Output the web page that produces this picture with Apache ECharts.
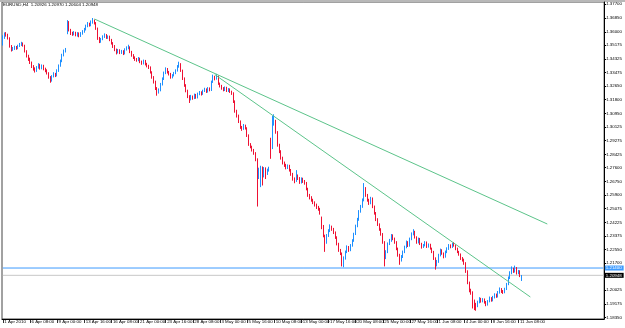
<!DOCTYPE html>
<html>
<head>
<meta charset="utf-8">
<script src="https://cdn.jsdelivr.net/npm/echarts@6/dist/echarts.min.js"></script>
<style>
  html, body { margin: 0; padding: 0; background: #fff; }
  #chart { width: 625px; height: 328px; }
</style>
</head>
<body>
<div id="chart"></div>
<script>
// EURUSD H4, 1 Apr 2010 16:00 .. 11 Jun 2010 16:00, one line per trading day
const opens = [
  1.3525, 1.3565,
  1.3585, 1.3578, 1.3560, 1.3510, 1.3490, 1.3495,
  1.3505, 1.3498, 1.3512, 1.3520, 1.3528, 1.3515,
  1.3480, 1.3450, 1.3430, 1.3410, 1.3385, 1.3370,
  1.3360, 1.3380, 1.3395, 1.3375, 1.3390, 1.3370,
  1.3362, 1.3345, 1.3320, 1.3300, 1.3325, 1.3340,
  1.3330, 1.3360, 1.3390, 1.3420, 1.3455, 1.3480,
  1.3590, 1.3660, 1.3610, 1.3590, 1.3585, 1.3595,
  1.3580, 1.3590, 1.3575, 1.3590, 1.3600, 1.3615,
  1.3635, 1.3650, 1.3640, 1.3660, 1.3668, 1.3655,
  1.3620, 1.3560, 1.3540, 1.3555, 1.3570, 1.3580,
  1.3565, 1.3570, 1.3550, 1.3530, 1.3510, 1.3490,
  1.3475, 1.3485, 1.3470, 1.3480, 1.3465, 1.3490,
  1.3500, 1.3505, 1.3475, 1.3455, 1.3440, 1.3430,
  1.3425, 1.3435, 1.3415, 1.3405, 1.3420, 1.3400,
  1.3390, 1.3380, 1.3350, 1.3320, 1.3290, 1.3250,
  1.3230, 1.3240, 1.3275, 1.3310, 1.3345, 1.3370,
  1.3350, 1.3340, 1.3320, 1.3330, 1.3345, 1.3360,
  1.3385, 1.3400, 1.3360, 1.3310, 1.3270, 1.3235,
  1.3200, 1.3185, 1.3200, 1.3190, 1.3210, 1.3195,
  1.3215, 1.3225, 1.3215, 1.3235, 1.3245, 1.3230,
  1.3250, 1.3240, 1.3290, 1.3320, 1.3310, 1.3325,
  1.3280, 1.3265, 1.3250, 1.3240, 1.3255, 1.3235,
  1.3245, 1.3230, 1.3220, 1.3170, 1.3110, 1.3080,
  1.3045, 1.3010, 1.3000, 1.3020, 1.3005, 1.2960,
  1.2905, 1.2890, 1.2870, 1.2850, 1.2810, 1.2730,
  1.2745, 1.2760, 1.2740, 1.2755, 1.2735, 1.2745,
  1.2935, 1.2880, 1.3030, 1.3050, 1.2980, 1.2900,
  1.2860, 1.2820, 1.2790, 1.2775, 1.2760, 1.2770,
  1.2745, 1.2720, 1.2690, 1.2680, 1.2710, 1.2695,
  1.2670, 1.2690, 1.2675, 1.2665, 1.2630, 1.2590,
  1.2575, 1.2560, 1.2545, 1.2530, 1.2515, 1.2505,
  1.2450, 1.2400, 1.2340, 1.2300, 1.2340, 1.2370,
  1.2395, 1.2380, 1.2360, 1.2330, 1.2290, 1.2250,
  1.2230, 1.2190, 1.2200, 1.2240, 1.2270, 1.2250,
  1.2280, 1.2310, 1.2350, 1.2400, 1.2440, 1.2490,
  1.2520, 1.2560, 1.2620, 1.2590, 1.2560, 1.2540,
  1.2570, 1.2520, 1.2480, 1.2440, 1.2410, 1.2380,
  1.2350, 1.2300, 1.2220, 1.2240, 1.2290, 1.2310,
  1.2340, 1.2320, 1.2300, 1.2260, 1.2220, 1.2190,
  1.2210, 1.2240, 1.2270, 1.2300, 1.2280, 1.2320,
  1.2350, 1.2365, 1.2330, 1.2300, 1.2320, 1.2290,
  1.2270, 1.2280, 1.2300, 1.2270, 1.2285, 1.2260,
  1.2240, 1.2200, 1.2160, 1.2180, 1.2220, 1.2250,
  1.2230, 1.2210, 1.2240, 1.2260, 1.2280, 1.2270,
  1.2290, 1.2280, 1.2260, 1.2240, 1.2225, 1.2200,
  1.2190, 1.2170, 1.2120, 1.2050, 1.2000, 1.1990,
  1.1930, 1.1915, 1.1905, 1.1930, 1.1950, 1.1935,
  1.1945, 1.1930, 1.1915, 1.1935, 1.1955, 1.1940,
  1.1960, 1.1975, 1.1965, 1.1990, 1.2010, 1.1995,
  1.1990, 1.2010, 1.2040, 1.2080, 1.2110, 1.2135,
  1.2120, 1.2140, 1.2110, 1.2120, 1.20926
];
const closes = [
  1.3565, 1.3585,
  1.3578, 1.3560, 1.3510, 1.3490, 1.3495, 1.3505,
  1.3498, 1.3512, 1.3520, 1.3528, 1.3515, 1.3480,
  1.3450, 1.3430, 1.3410, 1.3385, 1.3370, 1.3360,
  1.3380, 1.3395, 1.3375, 1.3390, 1.3370, 1.3362,
  1.3345, 1.3320, 1.3300, 1.3325, 1.3340, 1.3330,
  1.3360, 1.3390, 1.3420, 1.3455, 1.3480, 1.3490,
  1.3660, 1.3610, 1.3590, 1.3585, 1.3595, 1.3580,
  1.3590, 1.3575, 1.3590, 1.3600, 1.3615, 1.3635,
  1.3650, 1.3640, 1.3660, 1.3668, 1.3655, 1.3620,
  1.3560, 1.3540, 1.3555, 1.3570, 1.3580, 1.3565,
  1.3570, 1.3550, 1.3530, 1.3510, 1.3490, 1.3475,
  1.3485, 1.3470, 1.3480, 1.3465, 1.3490, 1.3500,
  1.3505, 1.3475, 1.3455, 1.3440, 1.3430, 1.3425,
  1.3435, 1.3415, 1.3405, 1.3420, 1.3400, 1.3390,
  1.3380, 1.3350, 1.3320, 1.3290, 1.3250, 1.3230,
  1.3240, 1.3275, 1.3310, 1.3345, 1.3370, 1.3350,
  1.3340, 1.3320, 1.3330, 1.3345, 1.3360, 1.3385,
  1.3400, 1.3360, 1.3310, 1.3270, 1.3235, 1.3200,
  1.3185, 1.3200, 1.3190, 1.3210, 1.3195, 1.3215,
  1.3225, 1.3215, 1.3235, 1.3245, 1.3230, 1.3250,
  1.3240, 1.3290, 1.3320, 1.3310, 1.3325, 1.3280,
  1.3265, 1.3250, 1.3240, 1.3255, 1.3235, 1.3245,
  1.3230, 1.3220, 1.3170, 1.3110, 1.3080, 1.3045,
  1.3010, 1.3000, 1.3020, 1.3005, 1.2960, 1.2905,
  1.2890, 1.2870, 1.2850, 1.2810, 1.2730, 1.2745,
  1.2760, 1.2740, 1.2755, 1.2735, 1.2745, 1.2755,
  1.2880, 1.3030, 1.3050, 1.2980, 1.2900, 1.2860,
  1.2820, 1.2790, 1.2775, 1.2760, 1.2770, 1.2745,
  1.2720, 1.2690, 1.2680, 1.2710, 1.2695, 1.2670,
  1.2690, 1.2675, 1.2665, 1.2630, 1.2590, 1.2575,
  1.2560, 1.2545, 1.2530, 1.2515, 1.2505, 1.2480,
  1.2400, 1.2340, 1.2300, 1.2340, 1.2370, 1.2395,
  1.2380, 1.2360, 1.2330, 1.2290, 1.2250, 1.2230,
  1.2190, 1.2200, 1.2240, 1.2270, 1.2250, 1.2280,
  1.2310, 1.2350, 1.2400, 1.2440, 1.2490, 1.2520,
  1.2560, 1.2620, 1.2590, 1.2560, 1.2540, 1.2570,
  1.2520, 1.2480, 1.2440, 1.2410, 1.2380, 1.2350,
  1.2300, 1.2220, 1.2240, 1.2290, 1.2310, 1.2340,
  1.2320, 1.2300, 1.2260, 1.2220, 1.2190, 1.2210,
  1.2240, 1.2270, 1.2300, 1.2280, 1.2320, 1.2350,
  1.2365, 1.2330, 1.2300, 1.2320, 1.2290, 1.2270,
  1.2280, 1.2300, 1.2270, 1.2285, 1.2260, 1.2240,
  1.2200, 1.2160, 1.2180, 1.2220, 1.2250, 1.2230,
  1.2210, 1.2240, 1.2260, 1.2280, 1.2270, 1.2290,
  1.2280, 1.2260, 1.2240, 1.2225, 1.2200, 1.2190,
  1.2170, 1.2120, 1.2050, 1.2000, 1.1990, 1.1930,
  1.1915, 1.1905, 1.1930, 1.1950, 1.1935, 1.1945,
  1.1930, 1.1915, 1.1935, 1.1955, 1.1940, 1.1960,
  1.1975, 1.1965, 1.1990, 1.2010, 1.1995, 1.1990,
  1.2010, 1.2040, 1.2080, 1.2110, 1.2135, 1.2120,
  1.2140, 1.2110, 1.2120, 1.2093, 1.20948
];
const highs = [
  1.3578, 1.3596,
  1.3598, 1.3588, 1.3566, 1.3518, 1.3506, 1.3514,
  1.3512, 1.3520, 1.3531, 1.3538, 1.3534, 1.3520,
  1.3486, 1.3458, 1.3440, 1.3416, 1.3394, 1.3380,
  1.3388, 1.3406, 1.3402, 1.3398, 1.3396, 1.3378,
  1.3368, 1.3350, 1.3326, 1.3332, 1.3350, 1.3346,
  1.3368, 1.3398, 1.3428, 1.3464, 1.3490, 1.3500,
  1.3672, 1.3666, 1.3618, 1.3600, 1.3604, 1.3600,
  1.3598, 1.3596, 1.3598, 1.3610, 1.3624, 1.3644,
  1.3660, 1.3656, 1.3670, 1.3685, 1.3676, 1.3660,
  1.3626, 1.3568, 1.3562, 1.3578, 1.3590, 1.3586,
  1.3578, 1.3576, 1.3556, 1.3536, 1.3518, 1.3496,
  1.3494, 1.3492, 1.3488, 1.3486, 1.3498, 1.3510,
  1.3520, 1.3510, 1.3482, 1.3462, 1.3448, 1.3438,
  1.3444, 1.3440, 1.3422, 1.3428, 1.3426, 1.3408,
  1.3396, 1.3386, 1.3356, 1.3326, 1.3298, 1.3258,
  1.3250, 1.3284, 1.3318, 1.3354, 1.3380, 1.3376,
  1.3358, 1.3346, 1.3338, 1.3352, 1.3368, 1.3394,
  1.3415, 1.3406, 1.3366, 1.3318, 1.3276, 1.3242,
  1.3208, 1.3210, 1.3206, 1.3218, 1.3216, 1.3224,
  1.3234, 1.3232, 1.3242, 1.3254, 1.3250, 1.3258,
  1.3256, 1.3298, 1.3335, 1.3328, 1.3340, 1.3330,
  1.3286, 1.3272, 1.3258, 1.3262, 1.3260, 1.3252,
  1.3250, 1.3236, 1.3226, 1.3176, 1.3118, 1.3088,
  1.3052, 1.3018, 1.3030, 1.3026, 1.3010, 1.2966,
  1.2912, 1.2896, 1.2876, 1.2856, 1.2818, 1.2760,
  1.2772, 1.2768, 1.2764, 1.2762, 1.2754, 1.2766,
  1.2945, 1.3080, 1.3090, 1.3056, 1.2986, 1.2908,
  1.2868, 1.2828, 1.2798, 1.2784, 1.2780, 1.2778,
  1.2752, 1.2728, 1.2700, 1.2745, 1.2718, 1.2702,
  1.2700, 1.2698, 1.2684, 1.2672, 1.2636, 1.2598,
  1.2584, 1.2568, 1.2552, 1.2538, 1.2524, 1.2512,
  1.2458, 1.2406, 1.2346, 1.2350, 1.2380, 1.2410,
  1.2402, 1.2388, 1.2366, 1.2336, 1.2296, 1.2258,
  1.2236, 1.2212, 1.2248, 1.2280, 1.2276, 1.2288,
  1.2318, 1.2358, 1.2408, 1.2450, 1.2498, 1.2530,
  1.2570, 1.2665, 1.2640, 1.2598, 1.2568, 1.2580,
  1.2576, 1.2526, 1.2486, 1.2448, 1.2416, 1.2386,
  1.2356, 1.2306, 1.2250, 1.2298, 1.2320, 1.2350,
  1.2348, 1.2328, 1.2306, 1.2266, 1.2228, 1.2220,
  1.2248, 1.2278, 1.2310, 1.2306, 1.2328, 1.2360,
  1.2380, 1.2370, 1.2336, 1.2328, 1.2326, 1.2296,
  1.2288, 1.2306, 1.2304, 1.2292, 1.2290, 1.2266,
  1.2246, 1.2206, 1.2190, 1.2228, 1.2260, 1.2256,
  1.2236, 1.2248, 1.2268, 1.2288, 1.2286, 1.2296,
  1.2300, 1.2286, 1.2266, 1.2246, 1.2230, 1.2208,
  1.2198, 1.2176, 1.2126, 1.2056, 1.2012, 1.1996,
  1.1945, 1.1925, 1.1938, 1.1960, 1.1956, 1.1954,
  1.1952, 1.1936, 1.1942, 1.1964, 1.1960, 1.1968,
  1.1984, 1.1982, 1.1998, 1.2020, 1.2016, 1.2004,
  1.2018, 1.2048, 1.2088, 1.2120, 1.2150, 1.2142,
  1.2155, 1.2146, 1.2128, 1.2126, 1.2097
];
const lows = [
  1.3515, 1.3556,
  1.3570, 1.3552, 1.3502, 1.3478, 1.3482, 1.3488,
  1.3489, 1.3492, 1.3506, 1.3512, 1.3508, 1.3472,
  1.3441, 1.3420, 1.3401, 1.3376, 1.3360, 1.3348,
  1.3352, 1.3372, 1.3366, 1.3368, 1.3362, 1.3350,
  1.3336, 1.3310, 1.3285, 1.3292, 1.3318, 1.3320,
  1.3324, 1.3352, 1.3384, 1.3412, 1.3448, 1.3472,
  1.3585, 1.3602, 1.3580, 1.3575, 1.3578, 1.3572,
  1.3570, 1.3566, 1.3568, 1.3582, 1.3594, 1.3608,
  1.3628, 1.3632, 1.3634, 1.3650, 1.3645, 1.3612,
  1.3550, 1.3530, 1.3532, 1.3548, 1.3562, 1.3556,
  1.3556, 1.3542, 1.3521, 1.3500, 1.3480, 1.3460,
  1.3466, 1.3462, 1.3463, 1.3456, 1.3460, 1.3484,
  1.3492, 1.3468, 1.3446, 1.3432, 1.3420, 1.3415,
  1.3418, 1.3406, 1.3396, 1.3398, 1.3392, 1.3380,
  1.3370, 1.3342, 1.3310, 1.3280, 1.3240, 1.3205,
  1.3218, 1.3232, 1.3268, 1.3302, 1.3338, 1.3342,
  1.3330, 1.3310, 1.3312, 1.3324, 1.3338, 1.3354,
  1.3378, 1.3352, 1.3302, 1.3260, 1.3226, 1.3190,
  1.3160, 1.3176, 1.3180, 1.3184, 1.3186, 1.3188,
  1.3208, 1.3206, 1.3210, 1.3228, 1.3222, 1.3224,
  1.3232, 1.3234, 1.3284, 1.3300, 1.3304, 1.3272,
  1.3256, 1.3242, 1.3232, 1.3234, 1.3228, 1.3228,
  1.3222, 1.3210, 1.3160, 1.3100, 1.3070, 1.3036,
  1.3000, 1.2988, 1.2994, 1.2996, 1.2950, 1.2895,
  1.2880, 1.2860, 1.2840, 1.2800, 1.2520, 1.2690,
  1.2640, 1.2650, 1.2700, 1.2690, 1.2715, 1.2736,
  1.2815, 1.2875, 1.3020, 1.2970, 1.2890, 1.2850,
  1.2810, 1.2780, 1.2765, 1.2750, 1.2752, 1.2736,
  1.2710, 1.2680, 1.2664, 1.2672, 1.2684, 1.2660,
  1.2662, 1.2666, 1.2655, 1.2620, 1.2580, 1.2564,
  1.2550, 1.2535, 1.2520, 1.2505, 1.2494, 1.2470,
  1.2380, 1.2330, 1.2240, 1.2290, 1.2332, 1.2362,
  1.2370, 1.2350, 1.2320, 1.2280, 1.2240, 1.2220,
  1.2150, 1.2145, 1.2192, 1.2232, 1.2240, 1.2244,
  1.2272, 1.2302, 1.2344, 1.2392, 1.2432, 1.2482,
  1.2512, 1.2552, 1.2580, 1.2550, 1.2530, 1.2534,
  1.2510, 1.2470, 1.2430, 1.2400, 1.2370, 1.2340,
  1.2290, 1.2150, 1.2195, 1.2232, 1.2282, 1.2302,
  1.2312, 1.2290, 1.2250, 1.2210, 1.2160, 1.2180,
  1.2202, 1.2232, 1.2262, 1.2270, 1.2272, 1.2312,
  1.2342, 1.2322, 1.2290, 1.2292, 1.2282, 1.2260,
  1.2264, 1.2274, 1.2264, 1.2266, 1.2254, 1.2232,
  1.2190, 1.2130, 1.2150, 1.2172, 1.2212, 1.2222,
  1.2200, 1.2204, 1.2232, 1.2252, 1.2262, 1.2264,
  1.2272, 1.2250, 1.2232, 1.2216, 1.2190, 1.2180,
  1.2160, 1.2110, 1.2040, 1.1990, 1.1975, 1.1890,
  1.1880, 1.1876, 1.1898, 1.1922, 1.1926, 1.1928,
  1.1920, 1.1904, 1.1908, 1.1928, 1.1932, 1.1934,
  1.1952, 1.1956, 1.1958, 1.1982, 1.1986, 1.1980,
  1.1984, 1.2004, 1.2034, 1.2072, 1.2102, 1.2110,
  1.2112, 1.2100, 1.2102, 1.2084, 1.2060
];

// time-axis labels, one every 16 bars
const timeLabels = ['1 Apr 2010', '6 Apr 08:00', '9 Apr 00:00', '13 Apr 16:00', '16 Apr 08:00',
  '21 Apr 00:00', '23 Apr 16:00', '28 Apr 08:00', '3 May 00:00', '5 May 16:00', '10 May 08:00',
  '13 May 00:00', '17 May 16:00', '20 May 08:00', '25 May 00:00', '27 May 16:00', '1 Jun 08:00',
  '4 Jun 00:00', '8 Jun 16:00', '11 Jun 08:00'];
const labelStep = 16;
const slotCount = 355; // bars + empty shift area on the right

// price scale labels
const priceTicks = [1.37700, 1.36850, 1.36000, 1.35175, 1.34325, 1.33475, 1.32650, 1.31800,
  1.30950, 1.30125, 1.29275, 1.28425, 1.27600, 1.26750, 1.25900, 1.25075, 1.24225, 1.23375,
  1.22550, 1.21700, 1.20025, 1.19175, 1.18350];

// horizontal level and bid line
const levelPrice = 1.21400;
const bidPrice = 1.20948;

// trendlines: [bar index, price]
const trendUpper = [[54, 1.3679], [321, 1.2412]];
const trendLower = [[125, 1.3335], [311, 1.1961]];

const header = 'EURUSD,H4  1.20926 1.20970 1.20604 1.20948';

const slots = [];
for (let i = 0; i < slotCount; i++) slots.push(String(i));

const candles = opens.map((o, i) => [o, closes[i], lows[i], highs[i]]);

const FONT = 'Liberation Sans';
const showLabel = (idx) => idx % labelStep === 0 && idx / labelStep < timeLabels.length;

// a horizontal line across all slots with a price box on the scale
function priceLine(value, lineColor, boxColor) {
  return {
    type: 'line',
    data: [[0, value], [slotCount - 1, value]],
    symbol: 'none',
    silent: true,
    z: 1,
    lineStyle: { color: lineColor, width: 1 },
    endLabel: {
      show: true, distance: 1.5,
      formatter: () => value.toFixed(5),
      color: '#fff', backgroundColor: boxColor, padding: [0.5, 2, 0.5, 1],
      fontSize: 4.4, fontFamily: FONT
    }
  };
}

const chart = echarts.init(document.getElementById('chart'), null, { renderer: 'canvas' });
chart.setOption({
  animation: false,
  backgroundColor: '#fff',
  title: {
    text: header,
    left: 3, top: 3,
    padding: 0,
    textStyle: { fontSize: 4.4, fontWeight: 'normal', color: '#000', fontFamily: FONT }
  },
  graphic: [
    { type: 'rect', shape: { x: 0, y: 0, width: 625, height: 2 }, style: { fill: '#b8b8b8' }, silent: true }
  ],
  grid: {
    left: 2, right: 17, top: 2, bottom: 9,
    show: true, borderColor: '#444', borderWidth: 1, backgroundColor: '#fff'
  },
  xAxis: {
    type: 'category',
    data: slots,
    boundaryGap: true,
    axisLine: { show: true, lineStyle: { color: '#000', width: 1 } },
    axisTick: {
      show: true, length: 4, alignWithLabel: true,
      interval: (idx) => showLabel(idx),
      lineStyle: { color: '#000', width: 0.8 }
    },
    axisLabel: {
      interval: (idx) => showLabel(idx),
      formatter: (v, idx) => timeLabels[idx / labelStep],
      align: 'left', margin: 1, padding: [0, 0, 0, 1.5],
      fontSize: 4.4, color: '#000', fontFamily: FONT
    },
    splitLine: { show: false }
  },
  yAxis: {
    type: 'value',
    position: 'right',
    min: 1.1825, max: 1.3784,
    scale: true,
    splitLine: { show: false },
    axisLine: { show: true, lineStyle: { color: '#000', width: 1 } },
    axisTick: { show: true, length: 2, customValues: priceTicks, lineStyle: { color: '#000' } },
    axisLabel: {
      customValues: priceTicks,
      formatter: (v) => v.toFixed(5),
      margin: 2, fontSize: 4.4, color: '#000', fontFamily: FONT
    }
  },
  series: [
    priceLine(levelPrice, '#3d9bff', '#3d9bff'),
    priceLine(bidPrice, '#c8c8c8', '#000'),
    {
      type: 'candlestick',
      data: candles,
      barWidth: 1,
      z: 2,
      itemStyle: {
        color: '#1e90ff', color0: '#ee1133',
        borderColor: '#1e90ff', borderColor0: '#ee1133', borderWidth: 1
      }
    },
    {
      type: 'line', data: trendUpper, symbol: 'none', silent: true, z: 3,
      lineStyle: { color: '#5cc48a', width: 1 }
    },
    {
      type: 'line', data: trendLower, symbol: 'none', silent: true, z: 3,
      lineStyle: { color: '#5cc48a', width: 1 }
    }
  ]
});
</script>
</body>
</html>
